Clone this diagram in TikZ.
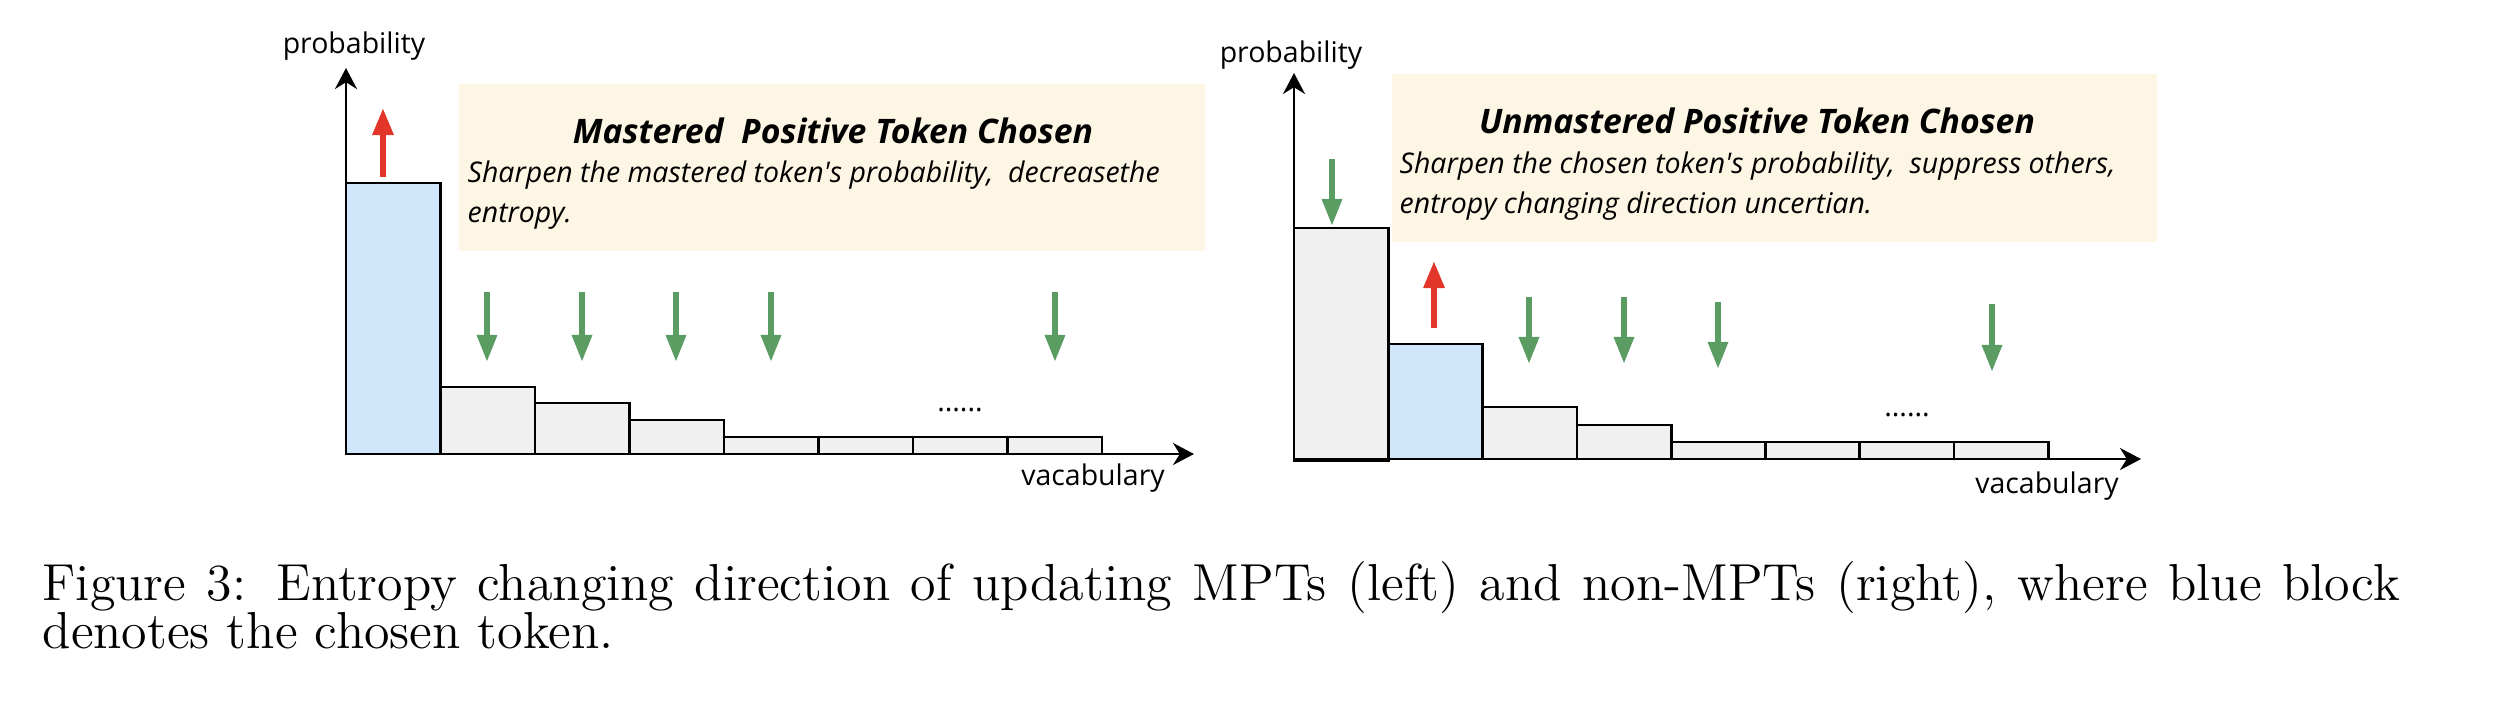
\documentclass[tikz,border=0pt]{standalone}
\usepackage{fontspec}
\usepackage{xcolor}
\usepackage{tikz}
\usetikzlibrary{arrows.meta}
\newfontfamily\osans{Open Sans}
\definecolor{note}{HTML}{FDF6E4}
\definecolor{chosenblue}{HTML}{D0E6FA}
\definecolor{barfill}{HTML}{F0F0F0}
\definecolor{upred}{HTML}{E2362A}
\definecolor{downgreen}{HTML}{5B9C63}

\begin{document}
\begin{tikzpicture}[
  x=0.01cm,
  y=-0.01cm,
  axis/.style={-{Stealth[length=2.1mm,width=2.2mm]}, line width=0.65pt},
  bar/.style={draw=black, fill=barfill, line width=0.75pt},
  chosen/.style={bar, fill=chosenblue},
  rise/.style={-{Triangle[length=2.7mm,width=2mm]}, line width=1.7pt, draw=upred},
  drop/.style={-{Triangle[length=2.7mm,width=1.9mm]}, line width=1.7pt, draw=downgreen},
  notebox/.style={fill=note},
  axislabel/.style={font=\osans\fontsize{8.1}{10}\selectfont, inner sep=0, anchor=base},
  title/.style={font=\osans\fontsize{9.6}{12}\selectfont\bfseries\itshape, inner sep=0, anchor=base},
  desc/.style={font=\osans\fontsize{8.1}{11.3}\selectfont\itshape, inner sep=0, anchor=base west, align=left},
  capt/.style={font=\fontsize{14.8}{17}\selectfont, inner sep=0, anchor=base west}
]
  \useasboundingbox (0,0) rectangle (2514,702);

  \fill[notebox] (459,84) rectangle (1205,251);
  \fill[notebox] (1392,74) rectangle (2157,242);

  \foreach \i/\h in {1/387,2/403,3/420,4/437,5/437,6/437,7/437}
    \draw[bar] ({346+94.5*\i},454) rectangle ({346+94.5*(\i+1)},\h);
  \draw[chosen] (346,454) rectangle (440.5,183);
  \draw[axis] (346,454) -- (1194,454);
  \draw[axis] (346,454) -- (346,68);

  \draw[bar] (1294,461) rectangle (1388.3,228);
  \draw[chosen] (1388.3,459) rectangle (1482.6,344);
  \foreach \i/\h in {2/407,3/425,4/442,5/442,6/442,7/442}
    \draw[bar] ({1294+94.3*\i},459) rectangle ({1294+94.3*(\i+1)},\h);
  \draw[axis] (1294,459) -- (2141,459);
  \draw[axis] (1294,459) -- (1294,73);

  \draw[rise] (383,177) -- (383,108);
  \foreach \x in {487,582,676,771,1055}
    \draw[drop] (\x,292) -- (\x,362);

  \draw[drop] (1332,159) -- (1332,226);
  \draw[rise] (1434,328) -- (1434,261);
  \foreach \x/\a/\b in {1529/297/364,1624/297/364,1718/302/369,1992/304/372}
    \draw[drop] (\x,\a) -- (\x,\b);

  \node[axislabel] (probL) at (354,53) {probability};
  \node[axislabel] (vocabL) at (1093,485) {vacabulary};
  \node[axislabel] (dotsL) at (960,411) {......};
  \node[axislabel] (probR) at (1291,62) {probability};
  \node[axislabel] (vocabR) at (2047,493) {vacabulary};
  \node[axislabel] (dotsR) at (1907,416) {......};

  \node[title] (titleL) at (833,143) {Mastered\ \ Positive Token Chosen};
  \node[desc] (descL) at (467,222)
    {Sharpen the mastered token's probability,\ \ decreasethe\\entropy.};
  \node[title] (titleR) at (1757,133) {Unmastered Positive Token Chosen};
  \node[desc] (descR) at (1399,213)
    {Sharpen the chosen token's probability,\ \ suppress others,\\entropy changing direction uncertian.};

  \node[capt] (capA) at (42,600)
    {\makebox[23.56cm][s]{Figure 3: Entropy changing direction of updating MPTs (left) and non-MPTs (right), where blue block}};
  \node[capt] (capB) at (42,648) {denotes the chosen token.};
\end{tikzpicture}
\end{document}
